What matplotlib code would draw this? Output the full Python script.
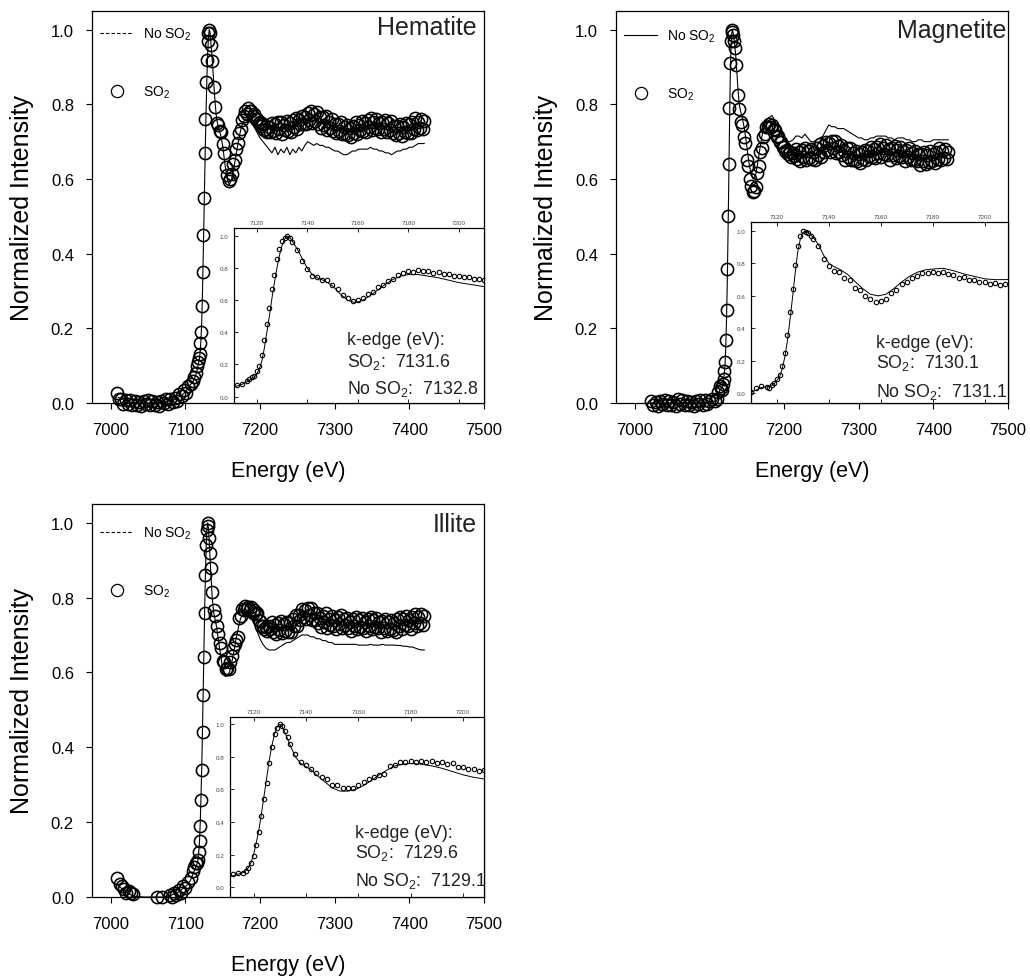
import matplotlib.pyplot as plt
from matplotlib.lines import Line2D
from matplotlib.ticker import FormatStrFormatter

plt.rcParams['font.family'] = ['Liberation Sans', 'DejaVu Sans']
plt.rcParams['mathtext.fontset'] = 'custom'
plt.rcParams['mathtext.rm'] = 'Liberation Sans'
plt.rcParams['mathtext.it'] = 'Liberation Sans:italic'

# ---- data (energy in eV, normalized intensity) ----
# energies shared by both series through the edge
energy_edge = [7104, 7107, 7110, 7112, 7114, 7116,
               7117, 7118, 7119, 7120, 7121, 7122, 7123, 7124, 7125, 7126,
               7127, 7128, 7129, 7130, 7131, 7132, 7133, 7134]

# energies after the white line, SO2 scans (dense)
energy_tail_so2 = [
    7136, 7138, 7140, 7142, 7144, 7146, 7148, 7150, 7152, 7154,
    7156, 7158, 7160, 7162, 7164, 7166, 7168, 7170, 7172, 7174,
    7176, 7178, 7180, 7182, 7184, 7186, 7188, 7190, 7192, 7194,
    7196, 7198, 7200, 7202, 7204, 7206, 7208, 7210, 7212, 7214,
    7216, 7218, 7220, 7222, 7224, 7226, 7228, 7230, 7232, 7234,
    7236, 7238, 7240, 7242, 7244, 7246, 7248, 7250, 7252, 7254,
    7256, 7258, 7260, 7262, 7264, 7266, 7268, 7270, 7272, 7274,
    7276, 7278, 7280, 7282, 7284, 7286, 7288, 7290, 7292, 7294,
    7296, 7298, 7300, 7302, 7304, 7306, 7308, 7310, 7312, 7314,
    7316, 7318, 7320, 7322, 7324, 7326, 7328, 7330, 7332, 7334,
    7336, 7338, 7340, 7342, 7344, 7346, 7348, 7350, 7352, 7354,
    7356, 7358, 7360, 7362, 7364, 7366, 7368, 7370, 7372, 7374,
    7376, 7378, 7380, 7382, 7384, 7386, 7388, 7390, 7392, 7394,
    7396, 7398, 7400, 7402, 7404, 7406, 7408, 7410, 7412, 7414,
    7416, 7418, 7420]

# energies after the white line, No SO2 scans
energy_tail_no = [
    7136, 7138, 7140, 7142, 7144,
    7147, 7150, 7153, 7156, 7159, 7162, 7165, 7168, 7171, 7174, 7177, 7180,
    7184, 7188, 7192, 7196, 7200, 7204, 7208,
    7212, 7216, 7220, 7224, 7228, 7232, 7236, 7240, 7244, 7248,
    7252, 7256, 7260, 7264, 7268, 7272, 7276, 7280, 7284, 7288,
    7292, 7296, 7300, 7304, 7308, 7312, 7316, 7320, 7324, 7328,
    7332, 7336, 7340, 7344, 7348, 7352, 7356, 7360, 7364, 7368,
    7372, 7376, 7380, 7384, 7388, 7392, 7396, 7400, 7404, 7408,
    7412, 7416, 7420]

# Hematite
hem_pre_e_so2 = [7008, 7011, 7014, 7017, 7020, 7023, 7026, 7029, 7032, 7035,
                 7038, 7041, 7044, 7047, 7050, 7053, 7056, 7059, 7062, 7065,
                 7068, 7071, 7074, 7077, 7080, 7083, 7086, 7089, 7092, 7095,
                 7098, 7101]
hem_pre_so2 = [0.028, 0.011, 0.012, -0.002, 0.008, -0.002, 0.008, -0.006, 0.006, -0.005,
               0.002, -0.008, 0.005, -0.002, 0.008, -0.006, 0.006, -0.005, 0.002, -0.008,
               0.005, -0.001, 0.01, -0.003, 0.011, 0.003, 0.013, 0.006, 0.023, 0.02,
               0.036, 0.028]
hem_pre_e_no = [7010, 7030, 7050, 7070, 7085, 7095, 7100]
hem_pre_no = [0.015, 0.0, 0.0, 0.002, 0.01, 0.02, 0.03]
hem_edge_so2 = [0.045, 0.05, 0.06, 0.07, 0.08, 0.10,
                0.11, 0.12, 0.13, 0.16, 0.19, 0.26, 0.35, 0.45, 0.55, 0.67,
                0.76, 0.86, 0.92, 0.97, 0.99, 1.00, 0.99, 0.96]
hem_edge_no = [0.04, 0.05, 0.055, 0.065, 0.075, 0.09,
               0.10, 0.11, 0.12, 0.14, 0.17, 0.22, 0.30, 0.40, 0.50, 0.61,
               0.71, 0.80, 0.88, 0.94, 0.98, 1.00, 0.995, 0.97]
hem_tail_so2 = [
    0.915, 0.846, 0.792, 0.749, 0.744, 0.728, 0.726, 0.695, 0.67, 0.631,
    0.612, 0.594, 0.599, 0.613, 0.641, 0.65, 0.68, 0.696, 0.722, 0.734,
    0.759, 0.768, 0.781, 0.775, 0.79, 0.781, 0.782, 0.769, 0.775, 0.761,
    0.762, 0.749, 0.754, 0.743, 0.746, 0.73, 0.735, 0.726, 0.74, 0.727,
    0.75, 0.728, 0.746, 0.722, 0.752, 0.734, 0.753, 0.72, 0.744, 0.731,
    0.755, 0.728, 0.751, 0.727, 0.757, 0.739, 0.763, 0.735, 0.759, 0.746,
    0.77, 0.748, 0.766, 0.747, 0.777, 0.759, 0.783, 0.75, 0.774, 0.756,
    0.78, 0.748, 0.766, 0.737, 0.767, 0.744, 0.768, 0.73, 0.754, 0.736,
    0.76, 0.728, 0.746, 0.722, 0.747, 0.729, 0.753, 0.72, 0.739, 0.721,
    0.745, 0.718, 0.736, 0.712, 0.742, 0.724, 0.753, 0.72, 0.744, 0.731,
    0.755, 0.728, 0.751, 0.727, 0.757, 0.739, 0.763, 0.73, 0.754, 0.736,
    0.76, 0.733, 0.751, 0.727, 0.752, 0.734, 0.758, 0.725, 0.749, 0.731,
    0.755, 0.723, 0.741, 0.717, 0.742, 0.724, 0.748, 0.715, 0.739, 0.726,
    0.75, 0.723, 0.746, 0.722, 0.752, 0.734, 0.763, 0.73, 0.754, 0.736,
    0.76, 0.733, 0.756]
hem_tail_no = [
    0.92, 0.86, 0.80, 0.76, 0.74,
    0.72, 0.69, 0.64, 0.60, 0.585, 0.60, 0.63, 0.665, 0.70, 0.73, 0.75, 0.76,
    0.76, 0.75, 0.74, 0.725, 0.71, 0.70, 0.69,
    0.68, 0.67, 0.685, 0.665, 0.68, 0.67, 0.685, 0.665, 0.68, 0.67,
    0.685, 0.675, 0.69, 0.70, 0.695, 0.69, 0.695, 0.69, 0.69, 0.685,
    0.685, 0.68, 0.675, 0.675, 0.67, 0.665, 0.665, 0.67, 0.675, 0.675,
    0.68, 0.68, 0.68, 0.68, 0.685, 0.68, 0.68, 0.675, 0.675, 0.67,
    0.67, 0.665, 0.67, 0.675, 0.675, 0.68, 0.68, 0.685, 0.685, 0.69,
    0.695, 0.695, 0.695]

# Magnetite
mag_pre_e_so2 = [7022, 7025, 7028, 7031, 7034, 7037, 7040, 7043, 7046, 7049,
                 7052, 7055, 7058, 7061, 7064, 7067, 7070, 7073, 7076, 7079,
                 7082, 7085, 7088, 7091, 7094, 7097, 7100]
mag_pre_so2 = [0.006, -0.005, 0.002, -0.008, 0.005, -0.002, 0.008, -0.006, 0.006, -0.005,
               0.002, -0.008, 0.012, -0.002, 0.008, -0.006, 0.006, -0.005, 0.002, -0.008,
               0.005, -0.002, 0.008, -0.006, 0.008, -0.004, 0.006]
mag_pre_e_no = [7022, 7040, 7060, 7080, 7100]
mag_pre_no = [0.0, 0.0, 0.0, 0.0, 0.003]
mag_edge_so2 = [0.01, 0.005, 0.01, 0.03, 0.045, 0.04,
                0.035, 0.05, 0.065, 0.085, 0.11, 0.17, 0.25, 0.36, 0.50, 0.64,
                0.79, 0.91, 0.97, 1.00, 0.995, 0.985, 0.97, 0.95]
mag_edge_no = [0.005, 0.005, 0.005, 0.02, 0.035, 0.04,
               0.04, 0.05, 0.06, 0.08, 0.10, 0.15, 0.22, 0.32, 0.45, 0.59,
               0.74, 0.87, 0.95, 0.99, 1.00, 0.99, 0.975, 0.96]
mag_tail_so2 = [
    0.905, 0.826, 0.787, 0.754, 0.744, 0.713, 0.696, 0.65, 0.635, 0.601,
    0.58, 0.564, 0.569, 0.579, 0.616, 0.636, 0.671, 0.683, 0.713, 0.721,
    0.74, 0.738, 0.747, 0.739, 0.744, 0.733, 0.731, 0.713, 0.715, 0.699,
    0.70, 0.686, 0.687, 0.674, 0.679, 0.668, 0.671, 0.66, 0.67, 0.661,
    0.68, 0.653, 0.671, 0.647, 0.677, 0.659, 0.683, 0.65, 0.674, 0.656,
    0.68, 0.653, 0.671, 0.652, 0.682, 0.664, 0.693, 0.66, 0.689, 0.671,
    0.70, 0.678, 0.696, 0.672, 0.702, 0.684, 0.703, 0.67, 0.689, 0.671,
    0.69, 0.663, 0.676, 0.652, 0.682, 0.659, 0.683, 0.65, 0.669, 0.651,
    0.675, 0.648, 0.666, 0.642, 0.672, 0.654, 0.678, 0.65, 0.674, 0.661,
    0.685, 0.658, 0.681, 0.657, 0.687, 0.669, 0.693, 0.66, 0.684, 0.666,
    0.69, 0.663, 0.681, 0.652, 0.682, 0.664, 0.688, 0.655, 0.679, 0.661,
    0.685, 0.658, 0.676, 0.647, 0.677, 0.659, 0.683, 0.65, 0.669, 0.651,
    0.675, 0.648, 0.666, 0.637, 0.667, 0.649, 0.673, 0.64, 0.664, 0.646,
    0.675, 0.648, 0.666, 0.642, 0.672, 0.654, 0.683, 0.65, 0.674, 0.656,
    0.68, 0.653, 0.671]
mag_tail_no = [
    0.915, 0.85, 0.80, 0.78, 0.765,
    0.735, 0.69, 0.645, 0.61, 0.60, 0.61, 0.645, 0.685, 0.72, 0.745, 0.76, 0.765,
    0.77, 0.755, 0.735, 0.72, 0.705, 0.70, 0.70,
    0.705, 0.715, 0.715, 0.71, 0.72, 0.71, 0.70, 0.70, 0.705, 0.71,
    0.715, 0.73, 0.745, 0.74, 0.74, 0.735, 0.735, 0.735, 0.73, 0.725,
    0.72, 0.715, 0.71, 0.71, 0.705, 0.705, 0.71, 0.71, 0.715, 0.715,
    0.715, 0.715, 0.71, 0.71, 0.705, 0.71, 0.71, 0.71, 0.705, 0.705,
    0.70, 0.70, 0.705, 0.705, 0.70, 0.70, 0.70, 0.705, 0.705, 0.705,
    0.705, 0.705, 0.705]

# Illite
ill_pre_e_so2 = [7008, 7012, 7015, 7018, 7021, 7024, 7027, 7030, 7062, 7069,
                 7079, 7082, 7085, 7088, 7091, 7094, 7097, 7100]
ill_pre_so2 = [0.05, 0.035, 0.03, 0.022, 0.012, 0.017, 0.01, 0.009, 0.0, 0.0,
               0.005, 0.0, 0.012, 0.006, 0.02, 0.012, 0.03, 0.025]
ill_pre_e_no = [7010, 7020, 7030, 7045, 7060, 7070, 7080, 7090, 7100]
ill_pre_no = [0.03, 0.015, 0.002, 0.0, 0.0, 0.0, 0.004, 0.012, 0.028]
ill_edge_so2 = [0.04, 0.05, 0.07, 0.08, 0.09, 0.09,
                0.10, 0.12, 0.15, 0.19, 0.26, 0.34, 0.44, 0.54, 0.64, 0.76,
                0.86, 0.94, 0.98, 1.00, 0.99, 0.96, 0.92, 0.88]
ill_edge_no = [0.035, 0.045, 0.06, 0.07, 0.08, 0.09,
               0.10, 0.12, 0.15, 0.20, 0.27, 0.35, 0.45, 0.56, 0.67, 0.78,
               0.87, 0.94, 0.985, 1.00, 0.985, 0.95, 0.91, 0.87]
ill_tail_so2 = [
    0.815, 0.766, 0.752, 0.724, 0.704, 0.678, 0.666, 0.63, 0.627, 0.609,
    0.612, 0.609, 0.629, 0.643, 0.666, 0.675, 0.686, 0.695, 0.745, 0.751,
    0.77, 0.766, 0.777, 0.769, 0.776, 0.768, 0.774, 0.76, 0.768, 0.756,
    0.76, 0.741, 0.737, 0.724, 0.724, 0.716, 0.721, 0.71, 0.725, 0.716,
    0.735, 0.708, 0.726, 0.702, 0.732, 0.714, 0.738, 0.705, 0.729, 0.711,
    0.735, 0.708, 0.731, 0.707, 0.742, 0.724, 0.753, 0.725, 0.754, 0.741,
    0.77, 0.748, 0.766, 0.742, 0.772, 0.754, 0.773, 0.74, 0.759, 0.741,
    0.76, 0.733, 0.746, 0.722, 0.752, 0.734, 0.758, 0.72, 0.744, 0.726,
    0.75, 0.723, 0.741, 0.717, 0.747, 0.729, 0.753, 0.72, 0.744, 0.726,
    0.745, 0.718, 0.736, 0.712, 0.742, 0.724, 0.748, 0.715, 0.739, 0.721,
    0.745, 0.718, 0.736, 0.712, 0.742, 0.724, 0.748, 0.715, 0.739, 0.721,
    0.745, 0.718, 0.736, 0.707, 0.737, 0.719, 0.743, 0.71, 0.734, 0.716,
    0.74, 0.713, 0.731, 0.707, 0.742, 0.724, 0.748, 0.715, 0.744, 0.726,
    0.75, 0.723, 0.741, 0.717, 0.747, 0.732, 0.756, 0.725, 0.749, 0.731,
    0.755, 0.728, 0.751]
ill_tail_no = [
    0.80, 0.76, 0.74, 0.72, 0.69,
    0.65, 0.61, 0.59, 0.59, 0.60, 0.625, 0.655, 0.69, 0.72, 0.745, 0.755, 0.76,
    0.755, 0.745, 0.73, 0.71, 0.69, 0.675, 0.665,
    0.66, 0.66, 0.66, 0.665, 0.67, 0.675, 0.68, 0.68, 0.685, 0.69,
    0.695, 0.70, 0.70, 0.70, 0.695, 0.695, 0.69, 0.69, 0.685, 0.685,
    0.68, 0.68, 0.675, 0.675, 0.675, 0.675, 0.675, 0.675, 0.675, 0.675,
    0.673, 0.673, 0.673, 0.673, 0.675, 0.673, 0.673, 0.673, 0.675, 0.673,
    0.673, 0.673, 0.673, 0.672, 0.672, 0.67, 0.67, 0.668, 0.668, 0.665,
    0.662, 0.66, 0.66]

edge_values = {'Hematite': ('7131.6', '7132.8'),
               'Magnetite': ('7130.1', '7131.1'),
               'Illite': ('7129.6', '7129.1')}

W, H = 1030, 979
fig = plt.figure(figsize=(W / 100, H / 100), dpi=100)


def px_rect(left, top, right, bottom):
    return [left / W, 1 - bottom / H, (right - left) / W, (bottom - top) / H]


def draw_panel(main_px, inset_px, name, e_so2, y_so2, e_no, y_no,
               dashed, leg_y, inset_xlim, inset_ylim, title_px, text_px):
    ax = fig.add_axes(px_rect(*main_px))
    ax.plot(e_no, y_no, color='black', lw=0.8, zorder=2)
    ax.plot(e_so2, y_so2, ls='none', marker='o', ms=8.8, mfc='none',
            mec='black', mew=1.15, clip_on=False, zorder=3)
    ax.set_xlim(6975, 7500)
    ax.set_ylim(0, 1.05)
    ax.set_xticks([7000, 7100, 7200, 7300, 7400, 7500])
    ax.set_yticks([0.0, 0.2, 0.4, 0.6, 0.8, 1.0])
    ax.yaxis.set_major_formatter(FormatStrFormatter('%.1f'))
    ax.tick_params(direction='out', length=4.5, width=0.8, labelsize=12, pad=8.5)
    ax.tick_params(axis='x', pad=9.5)
    for s in ax.spines.values():
        s.set_linewidth(0.9)
    ax.set_xlabel('Energy (eV)', fontsize=15.5, labelpad=16)
    ax.set_ylabel('Normalized Intensity', fontsize=18, labelpad=12)

    handles = [Line2D([], [], color='black', lw=0.8,
                      ls=(0, (3, 2)) if dashed else '-'),
               Line2D([], [], ls='none', marker='o', ms=8.8, mfc='none',
                      mec='black', mew=0.9)]
    ax.legend(handles, ['No SO$_2$', 'SO$_2$'], loc='upper left',
              bbox_to_anchor=(0.02, leg_y), frameon=False, fontsize=10,
              handlelength=2.4, handletextpad=0.7, labelspacing=3.0,
              borderaxespad=0, borderpad=0)

    ins = fig.add_axes(px_rect(*inset_px))
    ins.plot(e_no, y_no, color='black', lw=0.7, zorder=2)
    ins.plot(e_so2, y_so2, ls='none', marker='o', ms=3.2, mfc='none',
             mec='black', mew=0.8, zorder=3)
    ins.set_xlim(*inset_xlim)
    ins.set_ylim(*inset_ylim)
    ins.set_xticks([7120, 7140, 7160, 7180, 7200])
    ins.set_yticks([0.0, 0.2, 0.4, 0.6, 0.8, 1.0])
    ins.yaxis.set_major_formatter(FormatStrFormatter('%.1f'))
    ins.tick_params(direction='in', length=3, width=0.6, labelsize=4.5,
                    labelcolor='#444444')
    ins.tick_params(axis='x', top=True, bottom=True, labeltop=True,
                    labelbottom=False, pad=2)
    ins.tick_params(axis='y', pad=4)
    for s in ins.spines.values():
        s.set_linewidth(0.9)

    fig.text(title_px[0] / W, 1 - title_px[1] / H, name, ha='right',
             va='baseline', fontsize=18, color='#222222')
    so2_edge, no_edge = edge_values[name]
    tx, b1, b2, b3 = text_px
    fig.text(tx / W, 1 - b1 / H, 'k-edge (eV):', fontsize=12.8, color='#222222',
             va='baseline')
    fig.text(tx / W, 1 - b2 / H, 'SO$_2$:  ' + so2_edge, fontsize=12.8,
             color='#222222', va='baseline')
    fig.text(tx / W, 1 - b3 / H, 'No SO$_2$:  ' + no_edge, fontsize=12.8,
             color='#222222', va='baseline')


draw_panel((92, 12, 484, 404), (234, 229, 484, 404), 'Hematite',
           hem_pre_e_so2 + energy_edge + energy_tail_so2,
           hem_pre_so2 + hem_edge_so2 + hem_tail_so2,
           hem_pre_e_no + energy_edge + energy_tail_no,
           hem_pre_no + hem_edge_no + hem_tail_no,
           True, 0.962, (7111, 7210), (-0.04, 1.05), (477, 35),
           (347, 345, 367, 394))
draw_panel((616, 12, 1008, 404), (751, 223, 1008, 404), 'Magnetite',
           mag_pre_e_so2 + energy_edge + energy_tail_so2,
           mag_pre_so2 + mag_edge_so2 + mag_tail_so2,
           mag_pre_e_no + energy_edge + energy_tail_no,
           mag_pre_no + mag_edge_no + mag_tail_no,
           False, 0.957, (7110, 7209), (-0.06, 1.055), (1006, 38),
           (876, 348, 368, 397))
draw_panel((92, 505, 484, 898), (230, 718, 484, 898), 'Illite',
           ill_pre_e_so2 + energy_edge + energy_tail_so2,
           ill_pre_so2 + ill_edge_so2 + ill_tail_so2,
           ill_pre_e_no + energy_edge + energy_tail_no,
           ill_pre_no + ill_edge_no + ill_tail_no,
           True, 0.947, (7111, 7208), (-0.06, 1.045), (477, 532),
           (355, 838, 858, 886))

fig.savefig('out.png', dpi=100)
